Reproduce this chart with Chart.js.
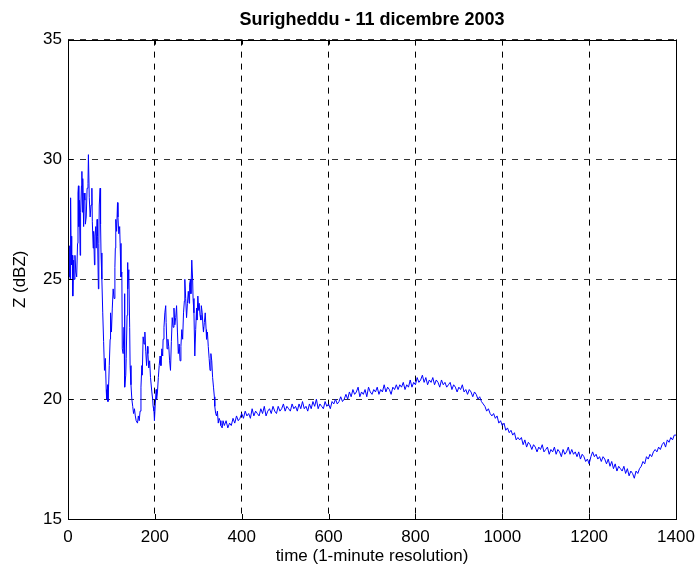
<!DOCTYPE html>
<html>
<head>
<meta charset="utf-8">
<title>Surigheddu - 11 dicembre 2003</title>
<script src="https://cdn.jsdelivr.net/npm/chart.js@4.4.1/dist/chart.umd.min.js"></script>
<style>
  html, body { margin: 0; padding: 0; background: #fff; }
  #wrap { position: relative; width: 696px; height: 568px; }
</style>
</head>
<body>
<div id="wrap"><canvas id="zChart" width="696" height="568"></canvas></div>
<script>
// first part of the day: rain bursts, irregular spacing
const burstMinutes = [
  0, 1, 2, 3, 4, 5, 6, 7, 8, 9, 10, 11, 13, 14, 16, 18, 20, 22, 23, 24,
  25, 26, 28, 29, 31, 32, 33, 34, 36, 37, 39, 40, 42, 44, 46, 47, 49, 51, 53, 55,
  56, 58, 59, 61, 62, 64, 65, 67, 68, 70, 71, 72, 74, 75, 76, 78, 80, 82, 84, 86,
  88, 89, 91, 92, 94, 95, 97, 98, 100, 102, 104, 106, 108, 109, 110, 112, 114, 115, 117, 119,
  120, 122, 124, 125, 127, 129, 130, 131, 133, 134, 136, 137, 138, 140, 142, 143, 145, 147, 149, 151,
  153, 155, 157, 160, 162, 164, 166, 168, 170, 171, 173, 175, 177, 179, 181, 183, 184, 186, 188, 190,
  193, 195, 196, 198, 199, 201, 203, 204, 206, 208, 210, 212, 214, 216, 218, 219, 221, 223, 225, 226,
  228, 230, 232, 234, 236, 238, 240, 242, 244, 246, 248, 250, 252, 254, 256, 258, 260, 262, 264, 266,
  268, 269, 271, 273, 275, 277, 279, 280, 282, 283, 285, 287, 288, 290, 292, 294, 296, 297, 299, 301,
  302, 304, 306, 307, 309, 311, 312, 314, 316, 318, 319, 321, 323, 325, 327, 329, 331, 333, 335, 337,
  338, 340, 342, 344, 346, 348, 350, 352, 355, 357
];
const burstZ = [
  26.1, 25.4, 26.0, 25.1, 26.4, 25.0, 28.4, 26.5, 26.8, 25.6, 26.0, 24.3, 25.8, 25.0, 26.0, 25.3, 25.1, 26.5, 28.6, 28.9,
  27.2, 28.3, 26.0, 27.8, 28.9, 29.5, 27.8, 29.2, 27.2, 28.6, 28.3, 27.3, 27.6, 28.8, 29.0, 30.2, 28.4, 27.6, 28.1, 28.8,
  27.4, 26.3, 27.0, 25.6, 26.8, 27.2, 26.3, 27.5, 26.8, 24.6, 26.5, 28.1, 28.8, 27.3, 26.1, 25.0, 23.6, 22.4, 21.2, 21.7,
  20.4, 20.0, 20.6, 19.9, 20.8, 21.4, 22.5, 23.6, 22.8, 23.8, 24.6, 24.2, 25.5, 26.3, 27.5, 27.0, 28.2, 27.6, 26.9, 27.2,
  26.5, 25.1, 25.3, 22.1, 21.9, 23.0, 24.4, 20.5, 21.0, 21.7, 23.5, 25.7, 24.6, 25.4, 23.0, 21.4, 20.6, 20.0, 19.7, 19.4,
  19.6, 19.3, 19.1, 19.0, 19.3, 19.1, 19.5, 20.5, 21.4, 21.0, 22.6, 22.3, 22.8, 22.0, 21.4, 22.2, 21.9, 21.3, 21.6, 20.9,
  20.3, 20.0, 19.7, 19.5, 19.1, 19.8, 20.4, 20.0, 20.3, 20.9, 21.4, 21.8, 21.4, 22.1, 21.8, 22.5, 23.0, 23.6, 23.9, 23.2,
  22.1, 22.5, 22.2, 21.6, 21.2, 22.4, 23.4, 23.0, 23.8, 23.1, 23.4, 23.9, 22.8, 21.9, 22.3, 21.6, 22.2, 22.9, 22.5, 23.6,
  24.1, 25.0, 24.2, 23.4, 24.0, 24.5, 24.0, 24.8, 25.0, 24.4, 25.8, 25.0, 24.2, 23.6, 21.8, 22.9, 23.8, 23.3, 24.3, 23.7,
  24.0, 23.5, 23.3, 23.9, 23.6, 23.0, 22.8, 23.2, 23.6, 22.9, 22.5, 22.8, 22.2, 21.7, 21.2, 21.9, 21.6, 20.9, 20.5, 20.1,
  19.7, 19.4, 19.3, 19.5, 19.0, 19.2, 19.1, 18.9, 18.8, 19.1
];

// rest of the day, one reading every 4 minutes from minute 360
const tailStart = 360;
const tailStep = 4;
const tailZ = [
  18.9, 19.1, 18.8, 19.0, 18.9, 19.2, 19.0, 19.3, 19.1, 19.2,
  19.4, 19.2, 19.5, 19.3, 19.4, 19.2, 19.6, 19.3, 19.5, 19.4,
  19.3, 19.6, 19.4, 19.7, 19.3, 19.5, 19.6, 19.4, 19.7, 19.5,
  19.4, 19.7, 19.5, 19.6, 19.8, 19.5, 19.7, 19.6, 19.5, 19.8,
  19.6, 19.7, 19.5, 19.8, 19.6, 19.9, 19.6, 19.7, 19.5, 19.8,
  19.6, 19.9, 19.7, 20.0, 19.6, 19.8, 19.7, 19.6, 19.9, 19.7,
  19.8, 19.6, 19.9, 19.8, 20.0, 19.8, 19.9, 20.1, 19.9, 20.0,
  20.2, 20.0, 20.3, 20.1, 20.4, 20.2, 20.3, 20.5, 20.1, 20.3,
  20.2, 20.4, 20.1, 20.5, 20.3, 20.2, 20.4, 20.3, 20.5, 20.2,
  20.4, 20.3, 20.6, 20.3, 20.5, 20.4, 20.2, 20.5, 20.4, 20.6,
  20.4, 20.6, 20.5, 20.7, 20.4, 20.6, 20.5, 20.8, 20.5, 20.7,
  20.6, 20.9, 20.7, 20.8, 21.0, 20.7, 20.9, 20.6, 20.8, 20.7,
  20.9, 20.6, 20.8, 20.7, 20.5, 20.8, 20.6, 20.7, 20.5, 20.6,
  20.7, 20.4, 20.6, 20.5, 20.3, 20.5, 20.4, 20.6, 20.3, 20.4,
  20.2, 20.4, 20.3, 20.1, 20.3, 20.2, 20.0, 20.1, 19.9, 19.8,
  19.7, 19.5, 19.6, 19.4, 19.3, 19.4, 19.2, 19.3, 19.0, 19.1,
  18.9, 19.0, 18.7, 18.8, 18.6, 18.7, 18.5, 18.6, 18.3, 18.4,
  18.3, 18.4, 18.1, 18.3, 18.0, 18.2, 18.1, 17.9, 18.1, 18.0,
  17.8, 18.0, 17.9, 18.1, 17.8, 17.9, 18.0, 17.7, 17.9, 17.8,
  18.0, 17.7, 17.9, 17.8, 17.6, 17.9, 17.7, 17.8, 18.0, 17.7,
  17.9, 17.7, 17.8, 17.6, 17.8, 17.5, 17.7, 17.6, 17.4, 17.5,
  17.3, 17.6, 17.8, 17.6, 17.7, 17.5, 17.6, 17.4, 17.6, 17.5,
  17.3, 17.5, 17.2, 17.4, 17.1, 17.3, 17.0, 17.2, 17.1, 17.0,
  17.2, 16.9, 17.1, 16.8, 17.0, 16.9, 16.7, 17.0, 16.9, 17.1,
  17.2, 17.4, 17.3, 17.6, 17.5, 17.7, 17.6, 17.8, 17.9, 17.8,
  18.0, 17.9, 18.1, 18.2, 18.0, 18.3, 18.2, 18.4, 18.3, 18.5,
  18.5
];

const xTicks = [0, 200, 400, 600, 800, 1000, 1200, 1400];
const yTicks = [15, 20, 25, 30, 35];

const FONT = '"Liberation Sans", Arial, Helvetica, sans-serif';

function buildPoints() {
  const pts = burstMinutes.map((m, i) => ({ x: m, y: burstZ[i] }));
  tailZ.forEach((z, i) => pts.push({ x: tailStart + i * tailStep, y: z }));
  return pts;
}

// matlab-style box with inward tick marks
const boxPlugin = {
  id: 'matlabBox',
  afterDraw(chart) {
    const { ctx, chartArea: a, scales } = chart;
    ctx.save();
    ctx.strokeStyle = '#000';
    ctx.lineWidth = 1;
    ctx.setLineDash([]);
    ctx.strokeRect(Math.round(a.left) + 0.5, Math.round(a.top) + 0.5,
      Math.round(a.right - a.left), Math.round(a.bottom - a.top));
    const len = 5;
    ctx.beginPath();
    for (const v of xTicks) {
      const px = Math.round(scales.x.getPixelForValue(v)) + 0.5;
      ctx.moveTo(px, a.bottom); ctx.lineTo(px, a.bottom - len);
      ctx.moveTo(px, a.top); ctx.lineTo(px, a.top + len);
    }
    for (const v of yTicks) {
      const py = Math.round(scales.y.getPixelForValue(v)) + 0.5;
      ctx.moveTo(a.left, py); ctx.lineTo(a.left + len, py);
      ctx.moveTo(a.right, py); ctx.lineTo(a.right - len, py);
    }
    ctx.stroke();
    ctx.restore();
  },
};

function initChart() {
  const canvas = document.getElementById('zChart');
  if (typeof Chart === 'undefined') return;

  // eslint-disable-next-line no-new
  new Chart(canvas, {
    type: 'line',
    data: {
      datasets: [
        {
          label: 'Z',
          data: buildPoints(),
          borderColor: '#0000ff',
          borderWidth: 1,
          pointRadius: 0,
          tension: 0,
          fill: false,
        },
      ],
    },
    options: {
      responsive: false,
      animation: false,
      events: [],
      layout: { padding: { left: 0, right: 20, top: 0, bottom: 0 } },
      plugins: {
        legend: { display: false },
        tooltip: { enabled: false },
        title: {
          display: true,
          text: 'Surigheddu - 11 dicembre 2003',
          fullSize: false,
          color: '#000',
          font: { family: FONT, size: 18, weight: 'bold', lineHeight: 1.2 },
          padding: { top: 9, bottom: 9 },
        },
      },
      scales: {
        x: {
          type: 'linear',
          min: 0,
          max: 1400,
          afterBuildTicks(scale) {
            scale.ticks = xTicks.map((v) => ({ value: v }));
          },
          afterFit(scale) {
            scale.height = 49;
            scale.paddingLeft = 0;
            scale.paddingRight = 0;
          },
          grid: { color: '#000', lineWidth: 1, drawTicks: false },
          border: { display: false, dash: [6, 6] },
          ticks: {
            color: '#000',
            padding: 8,
            maxRotation: 0,
            autoSkip: false,
            font: { family: FONT, size: 17 },
            callback: (v) => String(v),
          },
          title: {
            display: true,
            text: 'time (1-minute resolution)',
            color: '#000',
            font: { family: FONT, size: 17, lineHeight: 1.2 },
            padding: { top: 0, bottom: 1 },
          },
        },
        y: {
          min: 15,
          max: 35,
          afterBuildTicks(scale) {
            scale.ticks = yTicks.map((v) => ({ value: v }));
          },
          afterFit(scale) {
            scale.width = 68;
            scale.paddingTop = 0;
            scale.paddingBottom = 0;
          },
          grid: { color: '#333', lineWidth: 1, drawTicks: false },
          border: { display: false, dash: [6, 6] },
          ticks: {
            color: '#000',
            padding: 6,
            autoSkip: false,
            font: { family: FONT, size: 17 },
            callback: (v) => String(v),
          },
          title: {
            display: true,
            text: 'Z (dBZ)',
            color: '#000',
            font: { family: FONT, size: 17, lineHeight: 1.2 },
            padding: { top: 10, bottom: 0 },
          },
        },
      },
    },
    plugins: [boxPlugin],
  });
}

document.addEventListener('DOMContentLoaded', initChart);
</script>
</body>
</html>
